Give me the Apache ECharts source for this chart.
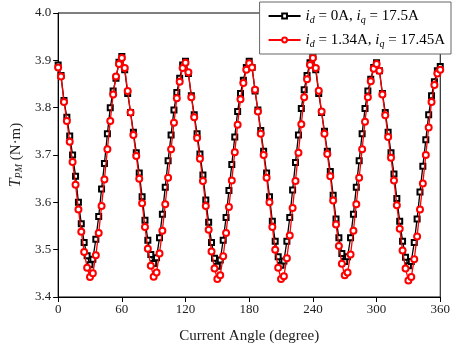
<!DOCTYPE html>
<html>
<head>
<meta charset="utf-8">
<script src="https://cdn.jsdelivr.net/npm/echarts@6/dist/echarts.min.js"></script>
<style>
  html, body { margin: 0; padding: 0; background: #fff; }
  #chart { width: 453px; height: 350px; }
</style>
</head>
<body>
<div id="chart"></div>
<script>
// current angle (degree), one row per 60 degree period
const angles = [
  0, 2.7, 5.5, 8.2, 10.9, 13.6, 16.4, 19.1, 21.8, 24.5, 27.3, 30, 32.7, 35.5, 38.2, 40.9, 43.6, 46.4, 49.1, 51.8, 54.5, 57.3,
  60, 62.7, 65.5, 68.2, 70.9, 73.6, 76.4, 79.1, 81.8, 84.5, 87.3, 90, 92.7, 95.5, 98.2, 100.9, 103.6, 106.4, 109.1, 111.8, 114.5, 117.3,
  120, 122.7, 125.5, 128.2, 130.9, 133.6, 136.4, 139.1, 141.8, 144.5, 147.3, 150, 152.7, 155.5, 158.2, 160.9, 163.6, 166.4, 169.1, 171.8, 174.5, 177.3,
  180, 182.7, 185.5, 188.2, 190.9, 193.6, 196.4, 199.1, 201.8, 204.5, 207.3, 210, 212.7, 215.5, 218.2, 220.9, 223.6, 226.4, 229.1, 231.8, 234.5, 237.3,
  240, 242.7, 245.5, 248.2, 250.9, 253.6, 256.4, 259.1, 261.8, 264.5, 267.3, 270, 272.7, 275.5, 278.2, 280.9, 283.6, 286.4, 289.1, 291.8, 294.5, 297.3,
  300, 302.7, 305.5, 308.2, 310.9, 313.6, 316.4, 319.1, 321.8, 324.5, 327.3, 330, 332.7, 335.5, 338.2, 340.9, 343.6, 346.4, 349.1, 351.8, 354.5, 357.3,
  360
];

// id = 0A, iq = 17.5A
const torqueA = [
  3.890, 3.868, 3.815, 3.780, 3.740, 3.700, 3.655, 3.600, 3.555, 3.515, 3.487, 3.468, 3.480, 3.522, 3.570, 3.628, 3.682, 3.745, 3.800, 3.835, 3.862, 3.896,
  3.908, 3.880, 3.830, 3.790, 3.748, 3.705, 3.662, 3.612, 3.562, 3.520, 3.490, 3.471, 3.483, 3.525, 3.575, 3.632, 3.688, 3.742, 3.795, 3.832, 3.862, 3.890,
  3.898, 3.872, 3.825, 3.785, 3.745, 3.702, 3.658, 3.605, 3.558, 3.515, 3.482, 3.465, 3.478, 3.520, 3.568, 3.625, 3.680, 3.738, 3.792, 3.830, 3.858, 3.885,
  3.898, 3.885, 3.835, 3.795, 3.752, 3.708, 3.662, 3.612, 3.560, 3.518, 3.485, 3.467, 3.476, 3.518, 3.568, 3.626, 3.684, 3.742, 3.798, 3.838, 3.868, 3.895,
  3.908, 3.880, 3.830, 3.790, 3.750, 3.708, 3.665, 3.615, 3.565, 3.525, 3.492, 3.475, 3.485, 3.525, 3.575, 3.632, 3.688, 3.745, 3.798, 3.835, 3.860, 3.885,
  3.895, 3.878, 3.830, 3.790, 3.748, 3.705, 3.660, 3.608, 3.560, 3.518, 3.484, 3.466, 3.475, 3.515, 3.565, 3.622, 3.676, 3.732, 3.785, 3.825, 3.855, 3.878,
  3.887
];

// id = 1.34A, iq = 17.45A
const torqueB = [
  3.885, 3.866, 3.812, 3.772, 3.728, 3.685, 3.637, 3.585, 3.538, 3.495, 3.462, 3.442, 3.450, 3.488, 3.535, 3.592, 3.648, 3.712, 3.772, 3.828, 3.866, 3.892,
  3.905, 3.884, 3.835, 3.790, 3.742, 3.698, 3.650, 3.598, 3.548, 3.502, 3.466, 3.443, 3.452, 3.492, 3.540, 3.596, 3.652, 3.712, 3.768, 3.820, 3.855, 3.884,
  3.895, 3.875, 3.822, 3.780, 3.736, 3.692, 3.645, 3.592, 3.542, 3.496, 3.460, 3.438, 3.446, 3.486, 3.535, 3.590, 3.646, 3.706, 3.764, 3.818, 3.852, 3.880,
  3.894, 3.885, 3.838, 3.792, 3.745, 3.700, 3.652, 3.600, 3.548, 3.500, 3.462, 3.438, 3.444, 3.482, 3.530, 3.588, 3.645, 3.705, 3.765, 3.822, 3.860, 3.890,
  3.905, 3.884, 3.836, 3.792, 3.745, 3.702, 3.655, 3.604, 3.553, 3.508, 3.470, 3.446, 3.452, 3.490, 3.540, 3.596, 3.652, 3.712, 3.770, 3.822, 3.856, 3.882,
  3.892, 3.878, 3.828, 3.784, 3.738, 3.694, 3.646, 3.594, 3.544, 3.498, 3.460, 3.435, 3.442, 3.480, 3.528, 3.585, 3.640, 3.700, 3.758, 3.812, 3.848, 3.872,
  3.880
];

const legendNames = ['idA', 'idB'];
const legendText = {
  idA: ['0A', '17.5A'],
  idB: ['1.34A', '17.45A']
};

const serif = 'Liberation Serif';
let myChart = echarts.init(document.getElementById('chart'));

const richSub = {
  i: { fontFamily: serif, fontStyle: 'italic', fontSize: 15, color: '#000' },
  n: { fontFamily: serif, fontSize: 15, color: '#000' },
  sub: { fontFamily: serif, fontStyle: 'italic', fontSize: 10, color: '#000', verticalAlign: 'bottom', lineHeight: 8 }
};

myChart.setOption({
  animation: false,
  backgroundColor: '#fff',
  grid: {
    left: 58,
    right: 8,
    top: 13,
    bottom: 53,
    show: true,
    borderColor: '#000',
    borderWidth: 1
  },
  legend: {
    data: legendNames,
    right: 2,
    top: 2,
    orient: 'vertical',
    backgroundColor: '#fff',
    borderColor: '#666',
    borderWidth: 1,
    padding: [5, 6, 5, 8],
    itemGap: 6,
    itemWidth: 32,
    itemHeight: 6,
    formatter: function (name) {
      const t = legendText[name];
      return '{i|i}{sub|d}{n| = ' + t[0] + ', }{i|i}{sub|q}{n| = ' + t[1] + '}';
    },
    textStyle: {
      fontFamily: serif,
      fontSize: 15,
      color: '#000',
      lineHeight: 18,
      rich: richSub
    }
  },
  xAxis: {
    type: 'value',
    min: 0,
    max: 360,
    interval: 60,
    name: 'Current Angle (degree)',
    nameLocation: 'middle',
    nameGap: 32,
    nameTextStyle: { fontFamily: serif, fontSize: 15, color: '#222' },
    axisLine: { show: true, lineStyle: { color: '#000', width: 1 } },
    axisTick: { show: true, inside: false, length: 5, lineStyle: { color: '#000' } },
    axisLabel: { fontFamily: serif, fontSize: 13, color: '#222', margin: 6 },
    splitLine: { show: false }
  },
  yAxis: {
    type: 'value',
    min: 3.4,
    max: 4.0,
    interval: 0.1,
    name: '{t|T}{s|PM}{n| (N·m)}',
    nameLocation: 'middle',
    nameRotate: 90,
    nameGap: 33,
    nameTextStyle: {
      fontFamily: serif,
      fontSize: 15,
      color: '#222',
      rich: {
        t: { fontFamily: serif, fontStyle: 'italic', fontSize: 16, color: '#222' },
        s: { fontFamily: serif, fontStyle: 'italic', fontSize: 10, color: '#222', verticalAlign: 'bottom', lineHeight: 8 },
        n: { fontFamily: serif, fontSize: 15, color: '#222' }
      }
    },
    axisLine: { show: true, lineStyle: { color: '#000', width: 1 } },
    axisTick: { show: true, inside: false, length: 5, lineStyle: { color: '#000' } },
    axisLabel: {
      fontFamily: serif,
      fontSize: 13,
      color: '#222',
      margin: 7,
      formatter: function (v) {
        return v.toFixed(1);
      }
    },
    splitLine: { show: false }
  },
  series: [
    {
      name: 'idA',
      type: 'line',
      data: angles.map((a, i) => [a, torqueA[i]]),
      symbol: 'emptyRect',
      symbolSize: 5,
      showAllSymbol: true,
      color: '#000',
      itemStyle: { color: '#000', borderColor: '#333', borderWidth: 0.8 },
      lineStyle: { color: '#000', width: 1.3 },
      z: 2
    },
    {
      name: 'idB',
      type: 'line',
      data: angles.map((a, i) => [a, torqueB[i]]),
      symbol: 'emptyCircle',
      symbolSize: 6,
      showAllSymbol: true,
      color: '#ff0000',
      itemStyle: { color: '#ff0000', borderColor: '#ff0000', borderWidth: 0.8 },
      lineStyle: { color: '#ff0000', width: 1.3 },
      z: 3
    }
  ]
});
</script>
</body>
</html>
